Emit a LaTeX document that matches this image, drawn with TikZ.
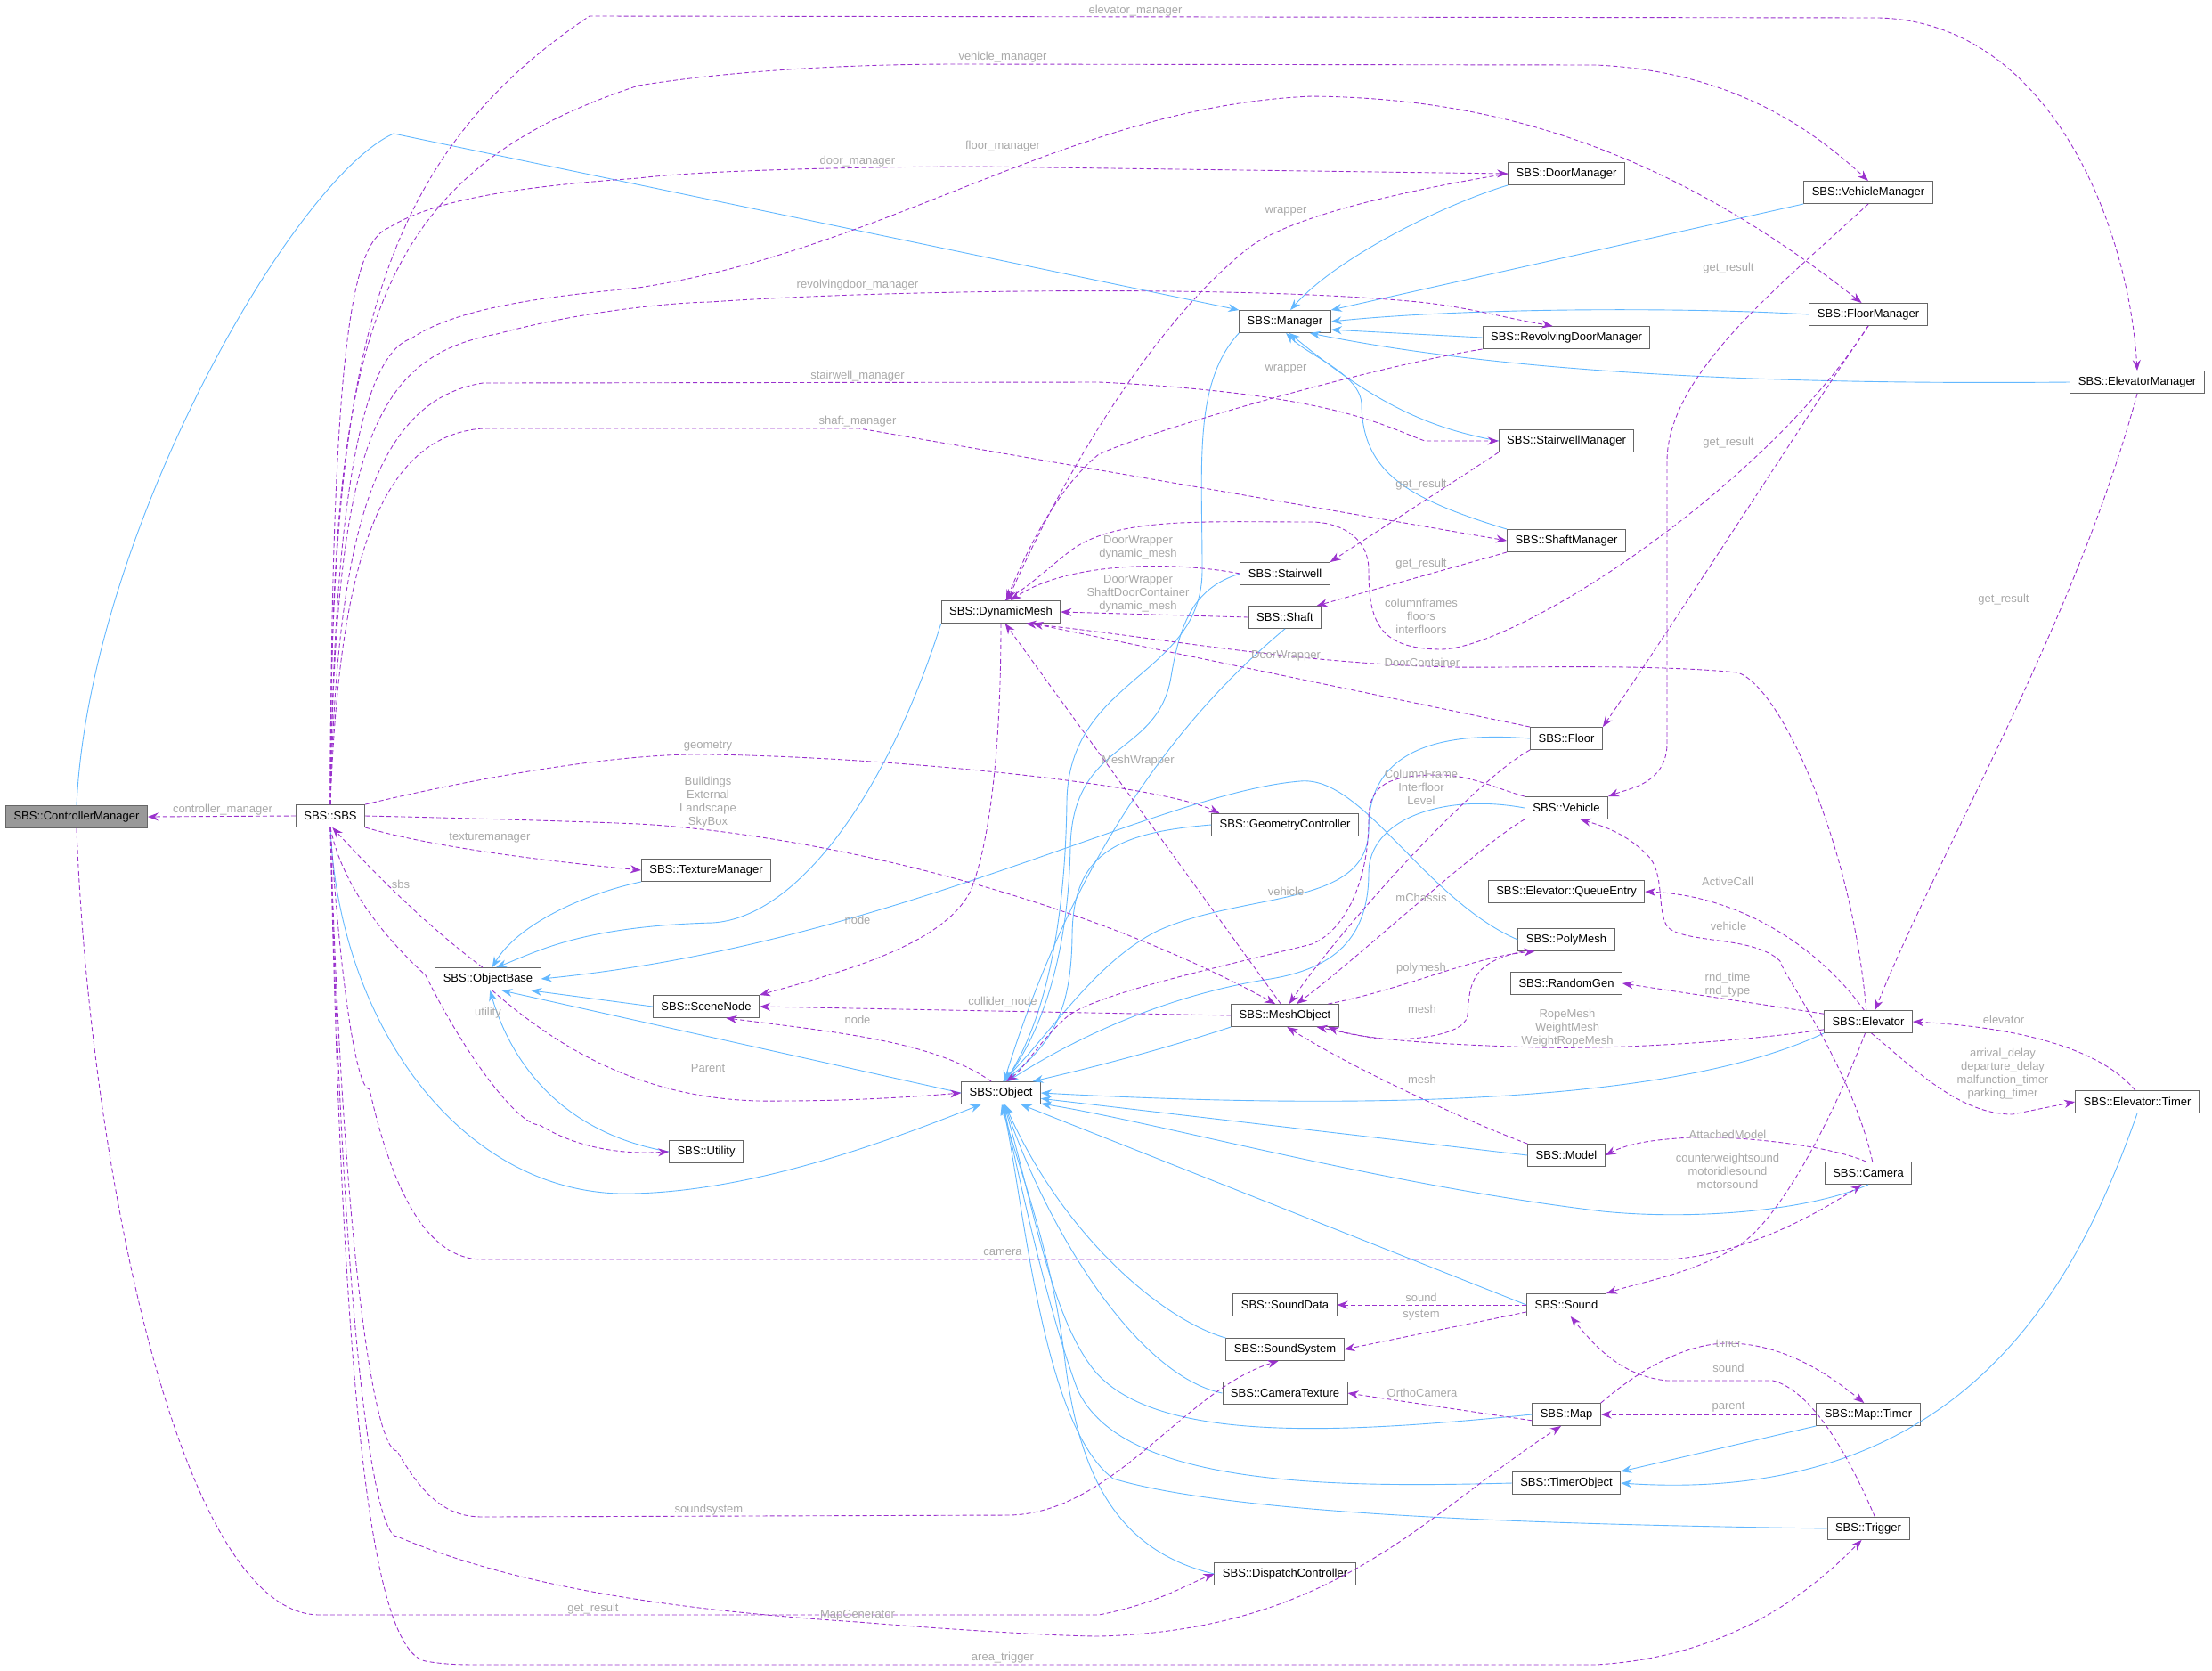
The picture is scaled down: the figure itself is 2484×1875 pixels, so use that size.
\documentclass[tikz,border=0pt]{standalone}
\usepackage{fontspec}
\setmainfont{Liberation Sans}
\usetikzlibrary{arrows.meta}
\definecolor{inhc}{HTML}{63B8FF}
\definecolor{usec}{HTML}{9A32CD}
\definecolor{lblc}{HTML}{A8A8A8}
\tikzset{
 box/.style={draw=black!60,line width=0.9pt,fill=white,font=\fontsize{13}{15}\selectfont,inner xsep=9pt,inner ysep=0pt,minimum height=25pt},
 inh/.style={draw=inhc,line width=0.9pt,-{Stealth[length=12pt,width=9pt]}},
 use/.style={draw=usec,line width=0.9pt,dash pattern=on 5pt off 3pt,-{Stealth[length=12pt,width=9pt]}},
 lbl/.style={text=lblc,font=\fontsize{13}{15}\selectfont,align=center,inner sep=0pt}
}
\begin{document}
\begin{tikzpicture}[x=1pt,y=-1pt]
\useasboundingbox (0,0) rectangle (2484,1875);
% nodes
\node[box,fill=black!40] (cm) at (86,917) {SBS::ControllerManager};
\node[box] (sbs) at (371,916) {SBS::SBS};
\node[box] (dyn) at (1124,687) {SBS::DynamicMesh};
\node[box] (tm) at (793,977) {SBS::TextureManager};
\node[box] (ob) at (548,1099) {SBS::ObjectBase};
\node[box] (sn) at (793,1130) {SBS::SceneNode};
\node[box] (obj) at (1124,1227) {SBS::Object};
\node[box] (ut) at (793,1293) {SBS::Utility};
\node[box] (dm) at (1759,195) {SBS::DoorManager};
\node[box] (vm) at (2098,216) {SBS::VehicleManager};
\node[box] (mgr) at (1443,361) {SBS::Manager};
\node[box] (fm) at (2098,353) {SBS::FloorManager};
\node[box] (rdm) at (1759,379) {SBS::RevolvingDoorManager};
\node[box] (em) at (2400,429) {SBS::ElevatorManager};
\node[box] (swm) at (1759,495) {SBS::StairwellManager};
\node[box] (shm) at (1759,607) {SBS::ShaftManager};
\node[box] (sw) at (1443,644) {SBS::Stairwell};
\node[box] (sh) at (1443,693) {SBS::Shaft};
\node[box] (fl) at (1759,829) {SBS::Floor};
\node[box] (veh) at (1759,907) {SBS::Vehicle};
\node[box] (gc) at (1443,926) {SBS::GeometryController};
\node[box] (qe) at (1759,1001) {SBS::Elevator::QueueEntry};
\node[box] (pm) at (1759,1055) {SBS::PolyMesh};
\node[box] (rg) at (1759,1104) {SBS::RandomGen};
\node[box] (mo) at (1443,1140) {SBS::MeshObject};
\node[box] (el) at (2098,1147) {SBS::Elevator};
\node[box] (et) at (2400,1237) {SBS::Elevator::Timer};
\node[box] (mdl) at (1759,1297) {SBS::Model};
\node[box] (cam) at (2098,1317) {SBS::Camera};
\node[box] (sd) at (1443,1465) {SBS::SoundData};
\node[box] (snd) at (1759,1465) {SBS::Sound};
\node[box] (ss) at (1443,1515) {SBS::SoundSystem};
\node[box] (ct) at (1443,1564) {SBS::CameraTexture};
\node[box] (map) at (1759,1588) {SBS::Map};
\node[box] (mt) at (2098,1588) {SBS::Map::Timer};
\node[box] (to) at (1759,1665) {SBS::TimerObject};
\node[box] (trg) at (2098,1716) {SBS::Trigger};
\node[box] (dc) at (1443,1767) {SBS::DispatchController};

% inheritance
\draw[inh] (cm.north) .. controls (100,600) and (330,200) .. (442,150) -- (mgr.north west);
\draw[inh] (dm.south west) .. controls (1620,230) and (1500,290) .. (mgr.65);
\draw[inh] (vm.south west) -- (mgr.north east);
\draw[inh] (fm.west) .. controls (1900,345) and (1650,345) .. (mgr.east);
\draw[inh] (rdm.west) -- (mgr.-10);
\draw[inh] (em.west) .. controls (2000,432) and (1700,420) .. (mgr.-25);
\draw[inh] (swm.west) .. controls (1600,480) and (1540,450) .. (mgr.-70);
\draw[inh] (shm.north west) .. controls (1580,560) and (1530,530) .. (1529,454) .. controls (1528,420) and (1470,400) .. (mgr.-85);
\draw[inh] (mgr.south west) .. controls (1340,430) and (1350,520) .. (1350,640) .. controls (1350,760) and (1200,760) .. (1198,900) .. controls (1196,1050) and (1170,1150) .. (obj.70);
\draw[inh] (sw.west) .. controls (1340,660) and (1325,700) .. (1315,760) .. controls (1300,850) and (1205,830) .. (1202,950) .. controls (1200,1060) and (1175,1150) .. (obj.72);
\draw[inh] (sh.south) .. controls (1330,800) and (1210,950) .. (obj.75);
\draw[inh] (gc.west) .. controls (1250,935) and (1205,960) .. (1204,1050) .. controls (1203,1130) and (1185,1170) .. (obj.78);
\draw[inh] (fl.west) .. controls (1620,821) and (1537,840) .. (1537,930) .. controls (1537,1020) and (1400,1000) .. (1300,1045) .. controls (1230,1080) and (1180,1160) .. (obj.80);
\draw[inh] (veh.west) .. controls (1620,890) and (1537,920) .. (1537,980) .. controls (1537,1060) and (1490,1090) .. (1420,1100) .. controls (1300,1120) and (1200,1170) .. (obj.60);
\draw[inh] (pm.west) .. controls (1600,1010) and (1530,870) .. (1460,877) .. controls (1300,890) and (1000,1060) .. (ob.east);
\draw[inh] (mo.south west) .. controls (1300,1180) and (1220,1200) .. (obj.20);
\draw[inh] (el.south west) .. controls (1900,1230) and (1600,1250) .. (obj.east);
\draw[inh] (mdl.west) -- (obj.-8);
\draw[inh] (cam.south) .. controls (2030,1360) and (1900,1370) .. (1800,1360) .. controls (1550,1330) and (1300,1260) .. (obj.-15);
\draw[inh] (snd.west) -- (obj.-30);
\draw[inh] (ss.north west) .. controls (1300,1480) and (1190,1380) .. (obj.-70);
\draw[inh] (ct.west) .. controls (1280,1545) and (1180,1390) .. (obj.-72);
\draw[inh] (map.west) .. controls (1500,1610) and (1300,1620) .. (1230,1540) .. controls (1180,1480) and (1160,1350) .. (obj.-75);
\draw[inh] (to.west) .. controls (1500,1670) and (1260,1670) .. (1210,1560) .. controls (1180,1480) and (1150,1350) .. (obj.-78);
\draw[inh] (trg.west) .. controls (1800,1712) and (1400,1705) .. (1250,1660) .. controls (1170,1600) and (1150,1350) .. (obj.-82);
\draw[inh] (dc.west) .. controls (1250,1740) and (1210,1650) .. (1195,1520) .. controls (1180,1400) and (1140,1300) .. (obj.-86);
\draw[inh] (mt.south west) -- (to.north east);
\draw[inh] (et.south) .. controls (2330,1450) and (2200,1690) .. (to.east);
\draw[inh] (dyn.south west) .. controls (1000,880) and (900,1030) .. (800,1036) .. controls (650,1040) and (600,1070) .. (ob.55);
\draw[inh] (tm.south west) .. controls (650,1005) and (580,1040) .. (ob.70);
\draw[inh] (sn.west) -- (ob.-15);
\draw[inh] (ut.west) .. controls (620,1270) and (570,1180) .. (ob.-80);
\draw[inh] (obj.west) -- (ob.-40);
\draw[inh] (sbs.south) .. controls (380,1150) and (520,1345) .. (710,1340) .. controls (850,1337) and (1000,1280) .. (obj.-150);

% usage
\draw[use] (sbs.west) -- (cm.east);
\draw[use] (sbs.north) .. controls (370,400) and (420,180) .. (662,18) -- (2110,20) .. controls (2300,25) and (2390,250) .. (em.north);
\draw[use] (sbs.north) .. controls (372,400) and (400,200) .. (717,96) .. controls (850,75) and (1000,72) .. (1076,72) -- (1792,73) .. controls (1950,80) and (2040,150) .. (vm.north);
\draw[use] (sbs.north) .. controls (374,600) and (400,400) .. (462,380) .. controls (520,340) and (650,330) .. (717,323) .. controls (1000,280) and (1200,120) .. (1473,108) .. controls (1650,110) and (1850,150) .. (fm.120);
\draw[use] (sbs.north) .. controls (372,350) and (400,270) .. (438,255) .. controls (500,215) and (650,205) .. (717,200) .. controls (800,190) and (1000,187) .. (1100,187) -- (dm.west);
\draw[use] (sbs.north) .. controls (376,500) and (420,400) .. (558,375) .. controls (650,350) and (750,340) .. (797,339) .. controls (1000,325) and (1400,320) .. (1593,339) .. controls (1650,345) and (1680,355) .. (rdm.140);
\draw[use] (sbs.north) .. controls (378,600) and (420,450) .. (542,430) -- (1234,429) .. controls (1497,442) and (1553,478) .. (1600,495) -- (swm.west);
\draw[use] (sbs.north) .. controls (380,650) and (420,490) .. (542,481) -- (965,481) -- (shm.west);
\draw[use] (sbs.north east) .. controls (550,870) and (700,845) .. (797,847) .. controls (1000,850) and (1300,880) .. (gc.170);
\draw[use] (sbs.east) .. controls (500,918) and (650,922) .. (717,925) .. controls (900,935) and (1200,1000) .. (mo.130);
\draw[use] (sbs.south east) .. controls (500,955) and (650,970) .. (tm.west);
\draw[use] (ob.115) .. controls (480,1040) and (420,980) .. (sbs.-80);
\draw[use] (sbs.south) .. controls (385,1000) and (440,1060) .. (478,1095) .. controls (520,1180) and (580,1263) .. (606,1263) .. controls (650,1290) and (700,1296) .. (ut.west);
\draw[use] (sbs.south) .. controls (382,1100) and (400,1223) .. (415,1223) .. controls (450,1380) and (500,1414) .. (542,1414) -- (1872,1414) .. controls (1950,1410) and (2030,1370) .. (cam.-120);
\draw[use] (sbs.south) .. controls (385,1400) and (420,1629) .. (446,1629) .. controls (480,1690) and (510,1703) .. (542,1703) -- (1132,1701) .. controls (1250,1700) and (1330,1560) .. (ss.-120);
\draw[use] (sbs.south) .. controls (385,1500) and (420,1725) .. (446,1725) .. controls (600,1790) and (800,1810) .. (963,1821) .. controls (1100,1832) and (1200,1837) .. (1234,1837) .. controls (1500,1830) and (1600,1700) .. (map.-115);
\draw[use] (sbs.south) .. controls (385,1600) and (420,1853) .. (478,1865) .. controls (500,1869) and (520,1869) .. (542,1869) -- (1792,1869) .. controls (1950,1860) and (2040,1780) .. (trg.-120);
\draw[use] (cm.south) .. controls (100,1300) and (200,1813) .. (359,1813) -- (1234,1813) .. controls (1300,1800) and (1330,1780) .. (dc.west);
\draw[use] (dm.west) .. controls (1600,210) and (1450,240) .. (1400,280) .. controls (1300,360) and (1200,520) .. (dyn.60);
\draw[use] (rdm.south west) .. controls (1550,410) and (1300,480) .. (1234,510) .. controls (1196,540) and (1160,600) .. (dyn.65);
\draw[use] (swm.south west) -- (sw.north east);
\draw[use] (shm.south west) -- (sh.20);
\draw[use] (fm.south) .. controls (2040,450) and (1880,700) .. (fl.north east);
\draw[use] (vm.south) .. controls (2000,320) and (1872,420) .. (1872,518) -- (1872,837) .. controls (1870,880) and (1830,885) .. (veh.north east);
\draw[use] (em.south) .. controls (2330,700) and (2180,950) .. (el.60);
\draw[use] (fm.south) .. controls (1980,550) and (1700,730) .. (1617,729) .. controls (1550,728) and (1537,700) .. (1537,640) .. controls (1537,600) and (1500,586) .. (1473,586) .. controls (1350,586) and (1250,580) .. (1200,620) .. controls (1180,635) and (1160,655) .. (dyn.70);
\draw[use] (sw.west) .. controls (1320,630) and (1200,630) .. (dyn.50);
\draw[use] (sh.west) -- (dyn.east);
\draw[use] (fl.north west) -- (dyn.-20);
\draw[use] (el.100) .. controls (2080,950) and (2000,770) .. (1951,755) .. controls (1850,745) and (1700,750) .. (1633,749) .. controls (1450,745) and (1300,715) .. (dyn.-25);
\draw[use] (dyn.-90) .. controls (1124,850) and (1110,950) .. (1090,1000) .. controls (1060,1060) and (950,1090) .. (sn.north east);
\draw[use] (mo.110) -- (dyn.-70);
\draw[use] (fl.south west) .. controls (1650,880) and (1500,1050) .. (mo.70);
\draw[use] (veh.south west) .. controls (1660,950) and (1520,1080) .. (mo.45);
\draw[use] (veh.north west) .. controls (1680,885) and (1650,870) .. (1617,870) .. controls (1560,870) and (1537,880) .. (1537,920) .. controls (1537,990) and (1510,1045) .. (1473,1060) .. controls (1350,1090) and (1234,1116) .. (1200,1140) .. controls (1170,1165) and (1150,1200) .. (obj.65);
\draw[use] (mo.15) .. controls (1580,1110) and (1650,1075) .. (pm.-160);
\draw[use] (pm.-165) .. controls (1655,1080) and (1650,1100) .. (1648,1140) .. controls (1645,1165) and (1569,1170) .. (1540,1165) -- (mo.-20);
\draw[use] (mo.west) -- (sn.east);
\draw[use] (obj.130) .. controls (1050,1170) and (950,1160) .. (sn.-30);
\draw[use] (ob.-70) .. controls (620,1170) and (720,1240) .. (877,1236) .. controls (950,1236) and (1020,1232) .. (obj.west);
\draw[use] (el.110) .. controls (2040,1060) and (1950,1005) .. (qe.east);
\draw[use] (el.170) -- (rg.east);
\draw[use] (el.-170) .. controls (1950,1170) and (1800,1180) .. (1700,1175) .. controls (1600,1172) and (1520,1165) .. (mo.-15);
\draw[use] (el.-75) .. controls (2150,1200) and (2200,1251) .. (2260,1251) -- (et.west);
\draw[use] (et.100) .. controls (2370,1190) and (2300,1155) .. (el.east);
\draw[use] (el.-105) .. controls (2060,1250) and (2000,1370) .. (1950,1400) .. controls (1900,1430) and (1840,1440) .. (snd.north east);
\draw[use] (mdl.north west) .. controls (1650,1260) and (1520,1200) .. (mo.-80);
\draw[use] (cam.100) .. controls (2050,1285) and (1950,1275) .. (1900,1277) .. controls (1860,1279) and (1830,1283) .. (mdl.east);
\draw[use] (cam.70) .. controls (2080,1200) and (2000,1090) .. (1999,1079) .. controls (1970,1050) and (1890,1060) .. (1872,1040) .. controls (1860,1020) and (1870,980) .. (1850,960) .. controls (1830,940) and (1810,930) .. (veh.-40);
\draw[use] (snd.west) -- (sd.east);
\draw[use] (snd.-170) -- (ss.east);
\draw[use] (map.-170) -- (ct.east);
\draw[use] (map.north east) .. controls (1850,1530) and (1900,1508) .. (1940,1508) .. controls (2000,1508) and (2050,1540) .. (mt.110);
\draw[use] (mt.west) -- (map.east);
\draw[use] (trg.60) .. controls (2070,1620) and (2030,1560) .. (1991,1550) -- (1872,1550) .. controls (1820,1545) and (1790,1510) .. (snd.-70);

% labels
\node[lbl] (l1) at (1275,12) {elevator\_manager};
\node[lbl] (l2) at (1126,64) {vehicle\_manager};
\node[lbl] (l3) at (1126,164) {floor\_manager};
\node[lbl] (l4) at (963,181) {door\_manager};
\node[lbl] (l5) at (963,320) {revolvingdoor\_manager};
\node[lbl] (l6) at (963,422) {stairwell\_manager};
\node[lbl] (l7) at (963,473) {shaft\_manager};
\node[lbl] (l8) at (795,838) {geometry};
\node[lbl] (l9) at (795,901) {Buildings\\External\\Landscape\\SkyBox};
\node[lbl] (l10) at (250,909) {controller\_manager};
\node[lbl] (l11) at (550,941) {texturemanager};
\node[lbl] (l12) at (450,993) {sbs};
\node[lbl] (l13) at (963,1033) {node};
\node[lbl] (l14) at (548,1137) {utility};
\node[lbl] (l15) at (1126,1125) {collider\_node};
\node[lbl] (l16) at (963,1145) {node};
\node[lbl] (l17) at (795,1199) {Parent};
\node[lbl] (l18) at (1126,1406) {camera};
\node[lbl] (l19) at (796,1695) {soundsystem};
\node[lbl] (l20) at (666,1806) {get\_result};
\node[lbl] (l21) at (963,1813) {MapGenerator};
\node[lbl] (l22) at (1126,1861) {area\_trigger};
\node[lbl] (l23) at (1444,237) {wrapper};
\node[lbl] (l24) at (1444,414) {wrapper};
\node[lbl] (l25) at (1941,301) {get\_result};
\node[lbl] (l26) at (1941,497) {get\_result};
\node[lbl] (l27) at (1596,544) {get\_result};
\node[lbl] (l28) at (1596,633) {get\_result};
\node[lbl] (l29) at (2250,673) {get\_result};
\node[lbl] (l30) at (1278,615) {DoorWrapper\\dynamic\_mesh};
\node[lbl] (l31) at (1278,666) {DoorWrapper\\ShaftDoorContainer\\dynamic\_mesh};
\node[lbl] (l32) at (1596,692) {columnframes\\floors\\interfloors};
\node[lbl] (l33) at (1444,736) {DoorWrapper};
\node[lbl] (l34) at (1597,744) {DoorContainer};
\node[lbl] (l35) at (1278,854) {MeshWrapper};
\node[lbl] (l36) at (1596,884) {ColumnFrame\\Interfloor\\Level};
\node[lbl] (l37) at (1444,1001) {vehicle};
\node[lbl] (l38) at (1596,1008) {mChassis};
\node[lbl] (l39) at (1940,990) {ActiveCall};
\node[lbl] (l40) at (1941,1040) {vehicle};
\node[lbl] (l41) at (1596,1087) {polymesh};
\node[lbl] (l42) at (1940,1106) {rnd\_time\\rnd\_type};
\node[lbl] (l43) at (1597,1133) {mesh};
\node[lbl] (l44) at (1760,1154) {RopeMesh\\WeightMesh\\WeightRopeMesh};
\node[lbl] (l45) at (2250,1145) {elevator};
\node[lbl] (l46) at (2249,1206) {arrival\_delay\\departure\_delay\\malfunction\_timer\\parking\_timer};
\node[lbl] (l47) at (1597,1212) {mesh};
\node[lbl] (l48) at (1940,1274) {AttachedModel};
\node[lbl] (l49) at (1940,1315) {counterweightsound\\motoridlesound\\motorsound};
\node[lbl] (l50) at (1596,1457) {sound};
\node[lbl] (l51) at (1596,1477) {system};
\node[lbl] (l52) at (1941,1508) {timer};
\node[lbl] (l53) at (1941,1536) {sound};
\node[lbl] (l54) at (1597,1564) {OrthoCamera};
\node[lbl] (l55) at (1941,1580) {parent};
\end{tikzpicture}
\end{document}
